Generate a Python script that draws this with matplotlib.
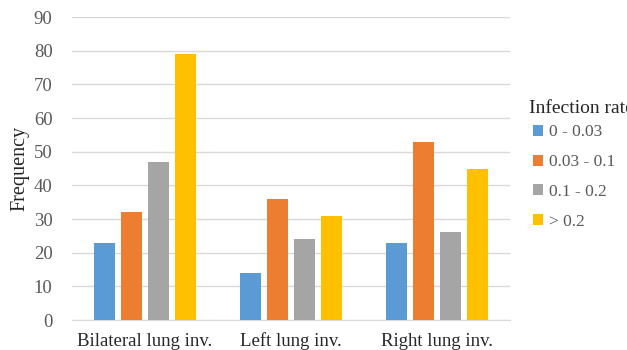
import matplotlib
matplotlib.use("Agg")
import matplotlib.pyplot as plt
import numpy as np
from matplotlib.patches import Patch

# ---------------- data ----------------
categories = ["Bilateral lung inv.", "Left lung inv.", "Right lung inv."]
rate_labels = ["0 - 0.03", "0.03 - 0.1", "0.1 - 0.2", "> 0.2"]
rate_0_003 = [23, 14, 23]
rate_003_01 = [32, 36, 53]
rate_01_02 = [47, 24, 26]
rate_gt_02 = [79, 31, 45]
yticks = [0, 10, 20, 30, 40, 50, 60, 70, 80, 90]

colors = ["#5B9BD5", "#ED7D31", "#A5A5A5", "#FFC000"]
series = [rate_0_003, rate_003_01, rate_01_02, rate_gt_02]

plt.rcParams["font.family"] = ["Liberation Serif", "DejaVu Serif"]
text_col = "#595959"

fig = plt.figure(figsize=(6.27, 3.5), dpi=100)
ax = fig.add_axes([0.1148, 0.0857, 0.6986, 0.8657])

x = np.arange(len(categories))
width = 0.144
step = 0.183
for i, (vals, col) in enumerate(zip(series, colors)):
    offset = (i - 1.5) * step
    ax.bar(x + offset, vals, width, color=col, zorder=3)

ax.set_xlim(-0.5, 2.5)
ax.set_ylim(0, 90)
ax.set_yticks(yticks)
ax.set_xticks(x)
ax.set_xticklabels(categories, fontsize=13.5, color="#262626")
ax.tick_params(axis="y", length=0, pad=14, labelsize=13.5, labelcolor=text_col)
ax.tick_params(axis="x", length=0, pad=9)
ax.grid(axis="y", color="#D9D9D9", linewidth=1, zorder=0)
for side in ["top", "right", "left"]:
    ax.spines[side].set_visible(False)
ax.spines["bottom"].set_color("#D9D9D9")
ax.set_ylabel("Frequency", fontsize=14.5, color="#262626", labelpad=3)

# legend entries and a separate title a few px to the left
handles = [Patch(facecolor=c, edgecolor="none") for c in colors]
leg = fig.legend(handles, rate_labels, loc="upper left",
                 bbox_to_anchor=(0.850, 0.645), frameon=False,
                 fontsize=12.5, handlelength=0.6, handleheight=0.6,
                 handletextpad=0.3, labelspacing=0.8, borderaxespad=0,
                 borderpad=0)
for t in leg.get_texts():
    t.set_color(text_col)
fig.text(0.8437, 0.689, "Infection rate", fontsize=14, color="#262626",
         ha="left", va="center")

fig.savefig("out.png", dpi=100)
